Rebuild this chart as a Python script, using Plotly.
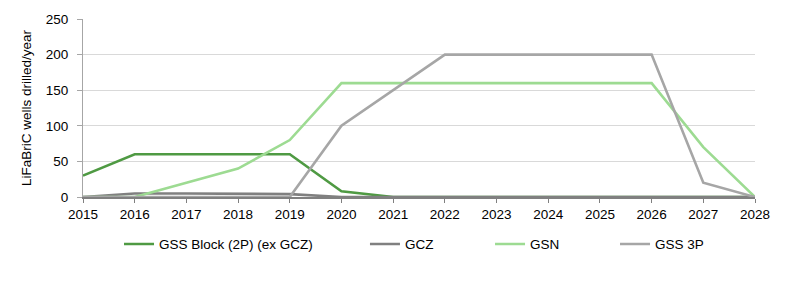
import plotly.graph_objects as go

years = list(range(2015, 2029))
gss_block = [30, 60, 60, 60, 60, 8, 0, 0, 0, 0, 0, 0, 0, 0]
gcz = [0, 5, 5, 5, 4, 0, 0, 0, 0, 0, 0, 0, 0, 0]
gsn = [0, 0, 20, 40, 80, 160, 160, 160, 160, 160, 160, 160, 70, 0]
gss_3p = [0, 0, 0, 0, 0, 100, 150, 200, 200, 200, 200, 200, 20, 0]

names = ["GSS Block (2P) (ex GCZ)", "GCZ", "GSN", "GSS 3P"]
series = [gss_block, gcz, gsn, gss_3p]
colors = ["#4f9a43", "#808080", "#9ddb92", "#a6a6a6"]
legend_ids = ["legend", "legend2", "legend3", "legend4"]
legend_x = [0.0536, 0.4196, 0.6057, 0.7917]

fig = go.Figure()
for n, s, c, lg in zip(names, series, colors, legend_ids):
    fig.add_trace(go.Scatter(x=years, y=s, name=n, mode="lines",
                             line=dict(color=c, width=2.6), legend=lg))

font = dict(family="Liberation Sans, Arial, sans-serif", size=13.5, color="#000000")
layout_legends = {}
for lg, lx in zip(legend_ids, legend_x):
    layout_legends[lg] = dict(x=lx, y=-0.265, xanchor="left", yanchor="middle",
                              orientation="h", itemwidth=30, font=font,
                              bgcolor="rgba(0,0,0,0)", tracegroupgap=0)

fig.update_layout(
    width=800, height=294,
    margin=dict(l=83, r=45, t=17, b=97),
    paper_bgcolor="white", plot_bgcolor="white",
    font=font,
    showlegend=True,
    **layout_legends,
)
fig.update_xaxes(range=[2015, 2028], tickmode="array", tickvals=years,
                 ticktext=[str(y) for y in years],
                 showline=True, linecolor="#808080", linewidth=2,
                 ticks="outside", ticklen=4, tickcolor="#808080",
                 showgrid=False, zeroline=False, tickfont=font)
fig.update_yaxes(range=[0, 250], tickvals=[0, 50, 100, 150, 200, 250],
                 showline=True, linecolor="#a6a6a6", linewidth=1,
                 showgrid=True, gridcolor="#d9d9d9", gridwidth=1,
                 zeroline=False, ticks="outside", ticklen=5, tickcolor="#a6a6a6",
                 ticklabelstandoff=6, tickfont=font,
                 title=dict(text="LiFaBriC wells drilled/year", font=font, standoff=11))

fig.write_html("out.html")
